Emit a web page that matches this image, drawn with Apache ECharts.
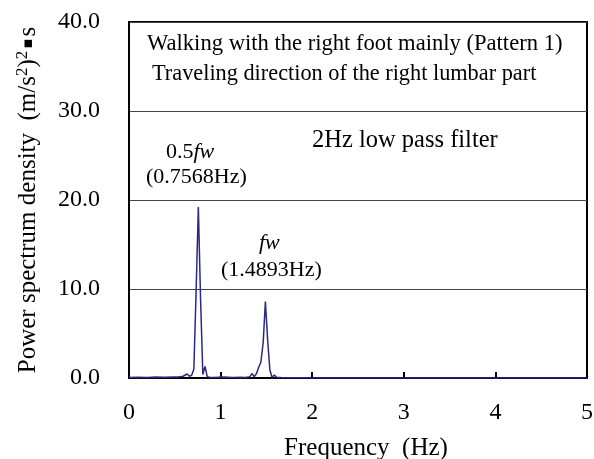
<!DOCTYPE html>
<html>
<head>
<meta charset="utf-8">
<script src="https://cdn.jsdelivr.net/npm/echarts@6/dist/echarts.min.js"></script>
<style>
  html, body { margin: 0; padding: 0; background: #fff; }
  #chart { width: 594px; height: 459px; }
</style>
</head>
<body>
<div id="chart"></div>
<script>
// frequency (Hz) and power spectrum density
var freq = [0, 0.10, 0.20, 0.29, 0.39, 0.49, 0.54, 0.59, 0.61, 0.635, 0.66, 0.684, 0.708, 0.732, 0.757, 0.781, 0.806, 0.830, 0.854, 0.879, 0.93, 1.03, 1.13, 1.22, 1.27, 1.32, 1.343, 1.367, 1.392, 1.416, 1.440, 1.465, 1.489, 1.514, 1.538, 1.562, 1.587, 1.611, 1.66, 1.76, 1.86, 1.95, 2.1, 2.5, 3.0, 3.5, 4.0, 4.5, 5.0];
var psd = [0.05, 0.08, 0.06, 0.10, 0.08, 0.12, 0.10, 0.20, 0.15, 0.45, 0.20, 0.30, 1.0, 9.5, 19.2, 9.0, 0.4, 1.3, 0.15, 0.08, 0.05, 0.10, 0.05, 0.08, 0.05, 0.15, 0.5, 0.15, 0.5, 1.2, 1.8, 4.0, 8.6, 4.2, 0.9, 0.05, 0.35, 0.08, 0.05, 0.04, 0.03, 0.02, 0.01, 0.01, 0.01, 0.01, 0.01, 0.01, 0.01];
var xTicks = [0, 1, 2, 3, 4, 5];
var yTicks = [0, 10, 20, 30, 40];

var serif = '"Times New Roman", "Liberation Serif", serif';
var chart = echarts.init(document.getElementById('chart'));

var option = {
    animation: false,
    backgroundColor: '#fff',
    textStyle: { fontFamily: serif },
    grid: {
        left: 129, right: 7, top: 22, bottom: 81,
        outerBoundsMode: 'none',
        show: true, borderColor: '#000', borderWidth: 2
    },
    xAxis: {
        type: 'value',
        min: xTicks[0], max: xTicks[xTicks.length - 1], interval: 1,
        name: 'Frequency  (Hz)',
        nameLocation: 'middle',
        nameGap: 58,
        nameTextStyle: { fontFamily: serif, fontSize: 25, color: '#000', padding: [0, 0, 0, 16] },
        axisLine: { lineStyle: { color: '#000', width: 2 } },
        axisTick: { inside: true, length: 6, lineStyle: { color: '#000', width: 2 } },
        axisLabel: { fontFamily: serif, fontSize: 24, color: '#000', margin: 23 },
        splitLine: { show: false }
    },
    yAxis: {
        type: 'value',
        min: yTicks[0], max: yTicks[yTicks.length - 1], interval: 10,
        name: 'Power spectrum density  (m/s{sup|2}){sup|2}{dot|▪}s',
        nameLocation: 'middle',
        nameGap: 86,
        nameTextStyle: {
            fontFamily: serif, fontSize: 25, color: '#000',
            rich: {
                sup: { fontFamily: serif, fontSize: 17, color: '#000', padding: [0, 0, 12, 0] },
                dot: { fontFamily: 'DejaVu Sans', fontSize: 15, color: '#000', padding: [0, 2, 0, 2] }
            }
        },
        axisLine: { show: true, lineStyle: { color: '#000', width: 2 } },
        axisTick: { show: false },
        axisLabel: {
            fontFamily: serif, fontSize: 24, color: '#000', margin: 29,
            formatter: function (v) { return v.toFixed(1); }
        },
        splitLine: { show: true, lineStyle: { color: '#444', width: 1 } }
    },
    graphic: [
        { type: 'text', left: 147, top: 33, style: { text: 'Walking with the right foot mainly (Pattern 1)', font: '22.6px ' + serif, fill: '#000' } },
        { type: 'text', left: 152, top: 63, style: { text: 'Traveling direction of the right lumbar part', font: '22.3px ' + serif, fill: '#000' } },
        { type: 'text', left: 312, top: 128, style: { text: '2Hz low pass filter', font: '24.5px ' + serif, fill: '#000' } },
        { type: 'text', left: 166, top: 141, style: { text: '0.5{i|fw}', font: '22px ' + serif, fill: '#000',
            rich: { i: { fontStyle: 'italic', fontFamily: serif, fontSize: 22 } } } },
        { type: 'text', left: 146, top: 166, style: { text: '(0.7568Hz)', font: '22px ' + serif, fill: '#000' } },
        { type: 'text', left: 259, top: 232, style: { text: 'fw', font: 'italic 22px ' + serif, fill: '#000' } },
        { type: 'text', left: 221, top: 259, style: { text: '(1.4893Hz)', font: '22px ' + serif, fill: '#000' } }
    ],
    series: [{
        type: 'line',
        data: freq.map(function (f, i) { return [f, psd[i]]; }),
        showSymbol: false,
        lineStyle: { color: '#2a2a85', width: 1.5 },
        z: 3
    }]
};
chart.setOption(option);
</script>
</body>
</html>
